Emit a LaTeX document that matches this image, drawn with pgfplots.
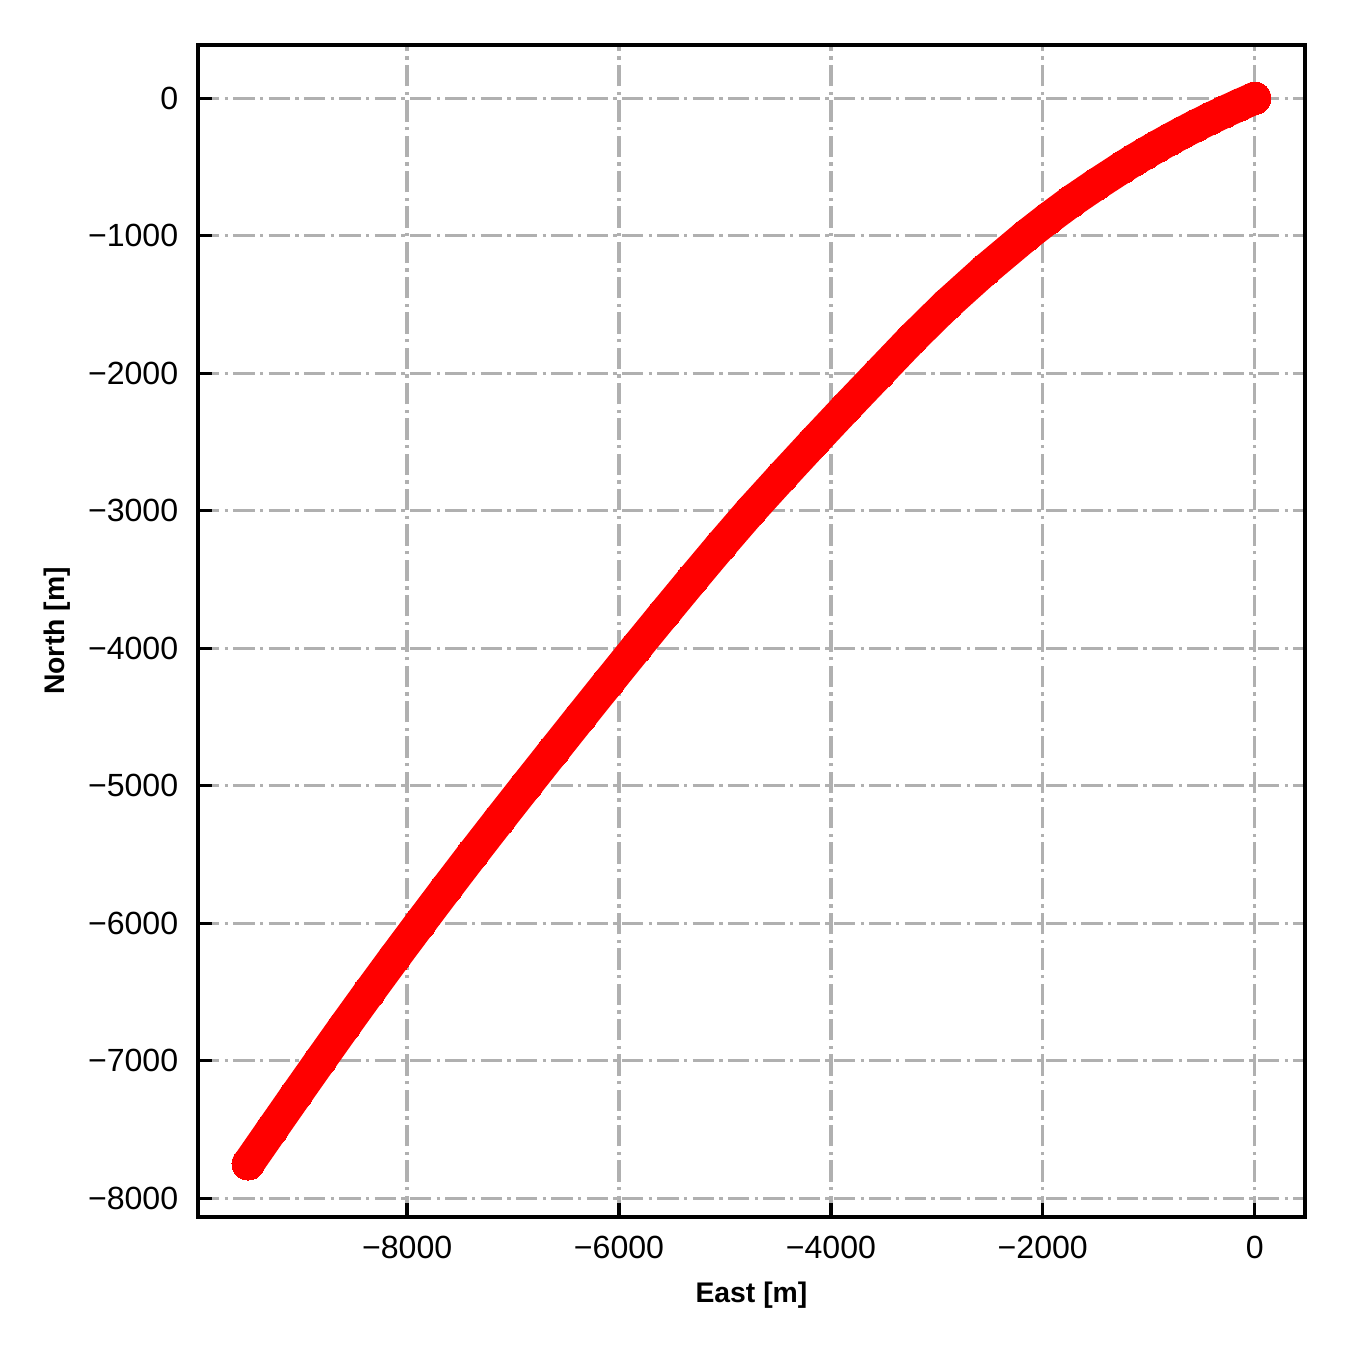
\documentclass[border=0pt]{standalone}
\usepackage{pgfplots}
\pgfplotsset{compat=1.18}
\usepackage{fontspec}
\setmainfont{Liberation Sans}
\begin{document}
\begin{tikzpicture}
\begin{axis}[
  scale only axis,
  width=265.7pt, height=281.3pt,
  xmin=-9975, xmax=475, ymin=-8137.5, ymax=387.5,
  axis line style={line width=0.8pt},
  tick align=inside,
  tick pos=left,
  major tick length=3.5pt,
  every tick/.style={black, line width=0.8pt},
  grid=major,
  major grid style={color=black!31, line width=0.8pt, dash pattern=on 5.12pt off 1.28pt on 0.8pt off 1.28pt},
  xtick={-8000,-6000,-4000,-2000,0},
  xticklabels={−8000,−6000,−4000,−2000,0},
  ytick={-8000,-7000,-6000,-5000,-4000,-3000,-2000,-1000,0},
  yticklabels={−8000,−7000,−6000,−5000,−4000,−3000,−2000,−1000,0},
  ticklabel style={font=\fontsize{7.7}{9}\selectfont},
  xticklabel style={yshift=-1pt},
  yticklabel style={xshift=-1.2pt},
  xlabel={East [m]}, ylabel={North [m]},
  label style={font=\fontsize{6.8}{8}\selectfont\bfseries},
  xlabel style={at={(axis description cs:0.5,0)}, anchor=base, yshift=-20.6pt},
  ylabel style={at={(axis description cs:0,0.5)}, anchor=center, rotate=0, yshift=33.8pt},
]
\addplot[red, line width=7.8pt, line cap=round, line join=round, mark=*, mark size=3.9pt, mark options={solid, line width=0pt}] coordinates {
(0,0) (-147,-50) (-289,-100) (-425,-150) (-556,-200) (-681,-250)
(-801,-300) (-918,-350) (-1030,-400) (-1139,-450) (-1243,-500)
(-1493,-625) (-1731,-750) (-1950,-875) (-2158,-1000)
(-2545,-1250) (-2905,-1500) (-3235,-1750) (-3545,-2000)
(-3855,-2250) (-4160,-2500) (-4460,-2750) (-4755,-3000)
(-5035,-3250) (-5307,-3500) (-5575,-3750) (-5840,-4000)
(-6102,-4250) (-6362,-4500) (-6620,-4750) (-6877,-5000)
(-7132,-5250) (-7384,-5500) (-7632,-5750) (-7877,-6000)
(-8119,-6250) (-8357,-6500) (-8591,-6750) (-8821,-7000)
(-9049,-7250) (-9275,-7500) (-9500,-7750)
};
\end{axis}
\pgfresetboundingbox
\path[use as bounding box] ([shift={(-47.5pt,-31.9pt)}]current axis.south west) rectangle ([shift={(10.8pt,10.8pt)}]current axis.north east);
\end{tikzpicture}
\end{document}
